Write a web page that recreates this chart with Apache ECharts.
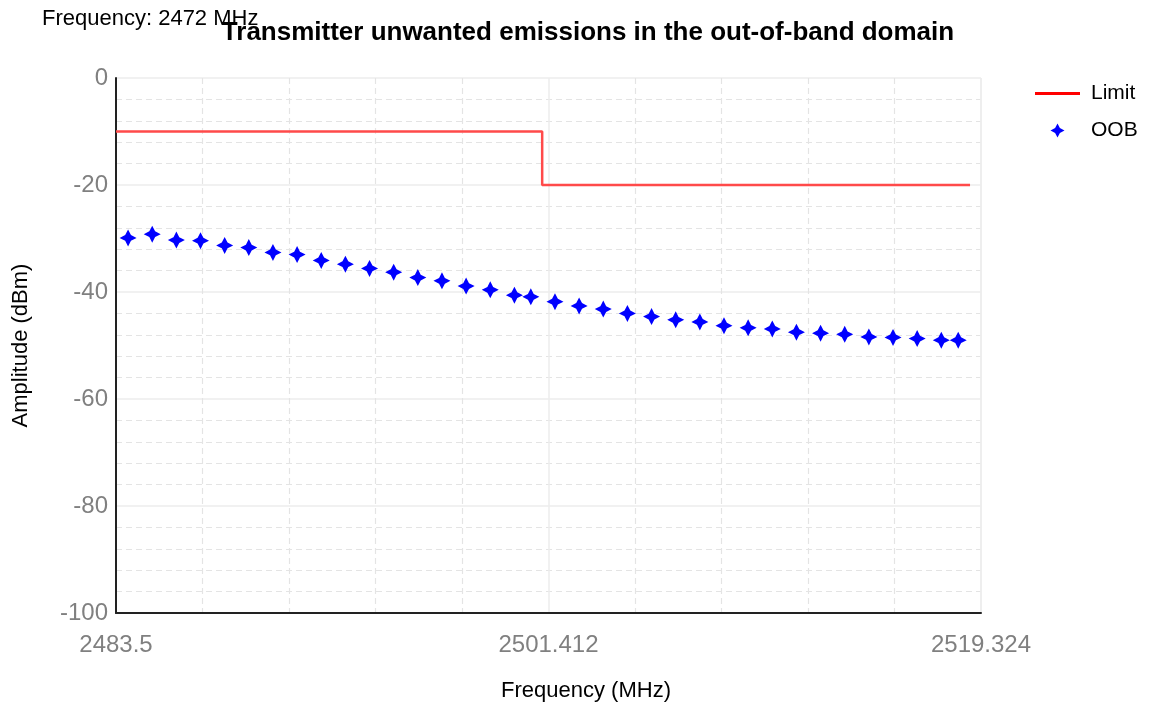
<!DOCTYPE html>
<html>
<head>
<meta charset="utf-8">
<script src="https://cdn.jsdelivr.net/npm/echarts@6/dist/echarts.min.js"></script>
<style>html,body{margin:0;padding:0;background:#fff;}#c{width:1152px;height:702px;}</style>
</head>
<body>
<div id="c"></div>
<script>
// ---- data ----
const titleText = 'Transmitter unwanted emissions in the out-of-band domain';
const subText = 'Frequency: 2472 MHz';
const xName = 'Frequency (MHz)';
const yName = 'Amplitude (dBm)';
const xTicks = [2483.5, 2501.412, 2519.324];
const yTicks = [-100, -80, -60, -40, -20, 0];
const limitFreq = [2483.5, 2501.15, 2501.15, 2518.87];
const limitLevel = [-10, -10, -20, -20];
const oobFreq = [2484, 2485, 2486, 2487, 2488, 2489, 2490, 2491, 2492, 2493, 2494, 2495, 2496, 2497, 2498, 2499, 2500,
  2500.68, 2501.68, 2502.68, 2503.68, 2504.68, 2505.68, 2506.68, 2507.68, 2508.68, 2509.68, 2510.68, 2511.68, 2512.68,
  2513.68, 2514.68, 2515.68, 2516.68, 2517.68, 2518.38];
const oobLevel = [-29.9, -29.2, -30.3, -30.4, -31.3, -31.7, -32.6, -33.0, -34.1, -34.8, -35.6, -36.3, -37.3, -37.9,
  -38.9, -39.6, -40.6, -40.9, -41.8, -42.6, -43.2, -44.0, -44.6, -45.2, -45.6, -46.3, -46.7, -46.9, -47.5, -47.7,
  -47.9, -48.4, -48.5, -48.7, -49.0, -49.0];

const FONT = '"Liberation Sans", Arial, sans-serif';
const star = 'path://M10,0 L13.4,6.6 L20,10 L13.4,13.4 L10,20 L6.6,13.4 L0,10 L6.6,6.6 Z';
const lineIcon = 'path://M0,0 L0,0 M0,5.5 L45,5.5 L45,8.5 L0,8.5 Z M45,14 L45,14';

const chart = echarts.init(document.getElementById('c'));
chart.setOption({
  animation: false,
  backgroundColor: '#fff',
  textStyle: { fontFamily: FONT },
  graphic: [
    { type: 'text', left: 42, top: 8, style: { text: subText, font: '22px ' + FONT, fill: '#000' } },
    { type: 'text', x: 588, y: 33, style: { text: titleText, font: 'bold 26px ' + FONT, fill: '#000', align: 'center', verticalAlign: 'middle' } },
    { type: 'text', x: 586, y: 691, style: { text: xName, font: '22px ' + FONT, fill: '#000', align: 'center', verticalAlign: 'middle' } }
  ],
  legend: {
    orient: 'vertical', left: 1035, top: 83, padding: 0,
    itemWidth: 45, itemHeight: 14, itemGap: 16,
    textStyle: { fontSize: 21, color: '#000', fontFamily: FONT, padding: [0, 0, 0, 6] },
    data: [
      { name: 'Limit', icon: lineIcon, itemStyle: { color: '#ff0000' } },
      { name: 'OOB', icon: star }
    ]
  },
  grid: { left: 116, top: 78, width: 865, height: 535, containLabel: false },
  xAxis: {
    type: 'value', min: xTicks[0], max: xTicks[xTicks.length - 1], interval: xTicks[1] - xTicks[0],
    axisLine: { show: true, onZero: false, lineStyle: { color: '#222', width: 2 } },
    axisTick: { show: false },
    axisLabel: { fontSize: 24, color: '#808080', margin: 20, fontFamily: FONT,
      formatter: v => String(parseFloat(v.toFixed(3))) },
    splitLine: { show: true, lineStyle: { color: '#ececec', width: 1.5 } },
    minorTick: { show: false, splitNumber: 5 },
    minorSplitLine: { show: true, lineStyle: { color: '#e4e4e4', width: 1.2, type: [6, 4] } }
  },
  yAxis: {
    type: 'value', min: yTicks[0], max: yTicks[yTicks.length - 1], interval: 20,
    name: yName, nameLocation: 'middle', nameGap: 84, nameRotate: 90,
    nameTextStyle: { fontSize: 22, color: '#000', fontFamily: FONT },
    axisLine: { show: true, onZero: false, lineStyle: { color: '#222', width: 2 } },
    axisTick: { show: false },
    axisLabel: { fontSize: 24, color: '#808080', margin: 8, fontFamily: FONT },
    splitLine: { show: true, lineStyle: { color: '#ececec', width: 1.5 } },
    minorTick: { show: false, splitNumber: 5 },
    minorSplitLine: { show: true, lineStyle: { color: '#e4e4e4', width: 1.2, type: [6, 4] } }
  },
  series: [
    {
      name: 'Limit', type: 'line', showSymbol: false, symbol: 'none',
      data: limitFreq.map((f, i) => [f, limitLevel[i]]),
      lineStyle: { color: '#ff4a4a', width: 2.5 },
      itemStyle: { color: '#ff0000' },
      z: 3
    },
    {
      name: 'OOB', type: 'scatter', symbol: star, symbolSize: 17, symbolKeepAspect: true,
      data: oobFreq.map((f, i) => [f, oobLevel[i]]),
      itemStyle: { color: '#0000ff', opacity: 1 },
      z: 4
    }
  ]
});
</script>
</body>
</html>
